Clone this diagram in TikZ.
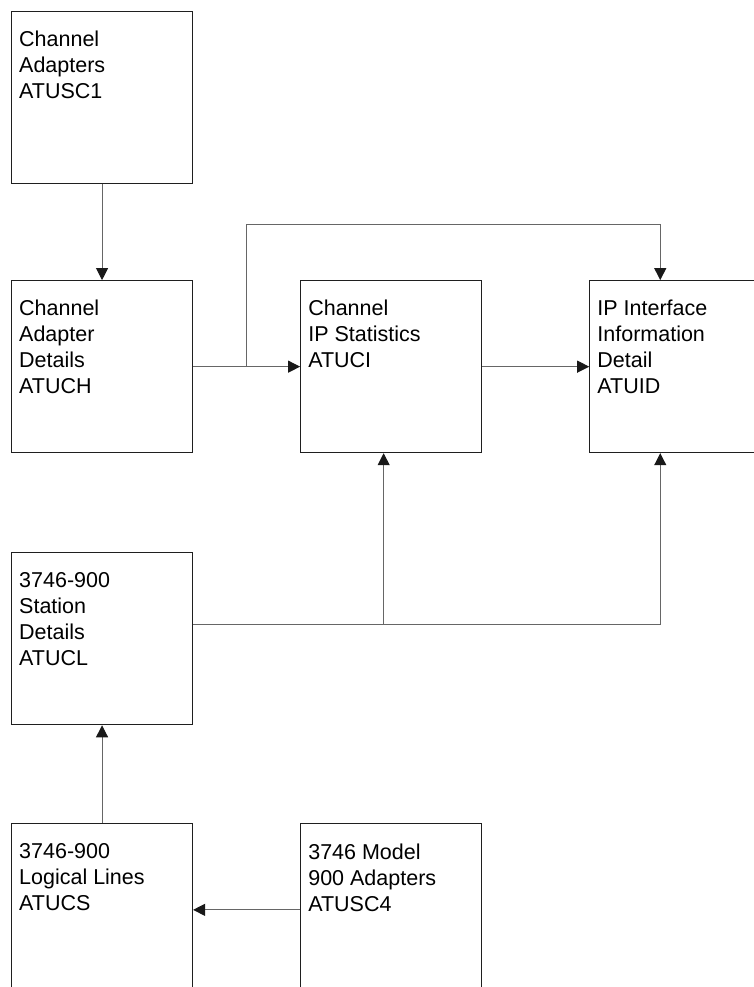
\documentclass[tikz,border=0pt]{standalone}
\usepackage{fontspec}
\setmainfont{Liberation Sans}
\usepackage{tikz}
\usetikzlibrary{positioning, arrows.meta, calc}
\tikzset{
  box/.style  ={draw=black!88, line width=1.1pt, anchor=north west,
                minimum width=181pt, minimum height=172pt, inner sep=0pt},
  txt/.style  ={anchor=north west, align=left, inner sep=0pt,
                font=\fontsize{21.5}{26}\selectfont, text=black},
  conn/.style ={draw=black!60, line width=1pt},
  flow/.style ={conn, -{Triangle[length=12pt, width=12pt, color=black!90]}},
}

\begin{document}
\begin{tikzpicture}[x=1pt, y=-1pt]
  \useasboundingbox (0,0) rectangle (754,987);
  \clip (0,0) rectangle (754,987);

  % boxes
  \node[box] (atusc1) at (11,11) {};
  \node[box, below=96pt of atusc1.south west, anchor=north west] (atuch) {};
  \node[box, right=107pt of atuch.north east, anchor=north west] (atuci) {};
  \node[box, right=107pt of atuci.north east, anchor=north west] (atuid) {};
  \node[box, below=99pt of atuch.south west, anchor=north west] (atucl) {};
  \node[box, below=98pt of atucl.south west, anchor=north west] (atucs) {};
  \node[box, right=107pt of atucs.north east, anchor=north west] (atusc4) {};

  % texts
  \node[txt, below right=20pt and 8pt of atusc1.north west] (atusc1-t) {Channel\\Adapters\\ATUSC1};
  \node[txt, below right=20pt and 8pt of atuch.north west] (atuch-t) {Channel\\Adapter\\Details\\ATUCH};
  \node[txt, below right=20pt and 8pt of atuci.north west] (atuci-t) {Channel\\IP Statistics\\ATUCI};
  \node[txt, below right=20pt and 8pt of atuid.north west] (atuid-t) {IP Interface\\Information\\Detail\\ATUID};
  \node[txt, below right=20pt and 8pt of atucl.north west] (atucl-t) {3746-900\\Station\\Details\\ATUCL};
  \node[txt, below right=20pt and 8pt of atucs.north west] (atucs-t) {3746-900\\Logical Lines\\ATUCS};
  \node[txt, below right=20pt and 8pt of atusc4.north west] (atusc4-t) {3746 Model\\900 Adapters\\ATUSC4};

  \coordinate (branch) at ($(atuch.east)!0.5!(atuci.west)$);
  \coordinate (idtop) at ([xshift=-20pt]atuid.north);
  \coordinate (idbot) at ([xshift=-20pt]atuid.south);
  \coordinate (cibot) at ([xshift=-7.5pt]atuci.south);
  \coordinate (join) at ([yshift=14pt]atucl.east);

  % connectors
  \draw[flow] (atusc1.south) -- (atuch.north);
  \draw[flow] (atuch.east) -- (atuci.west);
  \draw[flow] (atuci.east) -- (atuid.west);
  \draw[flow] (branch) |- ([yshift=56pt]idtop) -- (idtop);
  \draw[flow] (join) -| (idbot);
  \draw[flow] (cibot |- join) -- (cibot);
  \draw[flow] (atucs.north) -- (atucl.south);
  \draw[flow] (atusc4.west) -- (atucs.east);
\end{tikzpicture}
\end{document}
